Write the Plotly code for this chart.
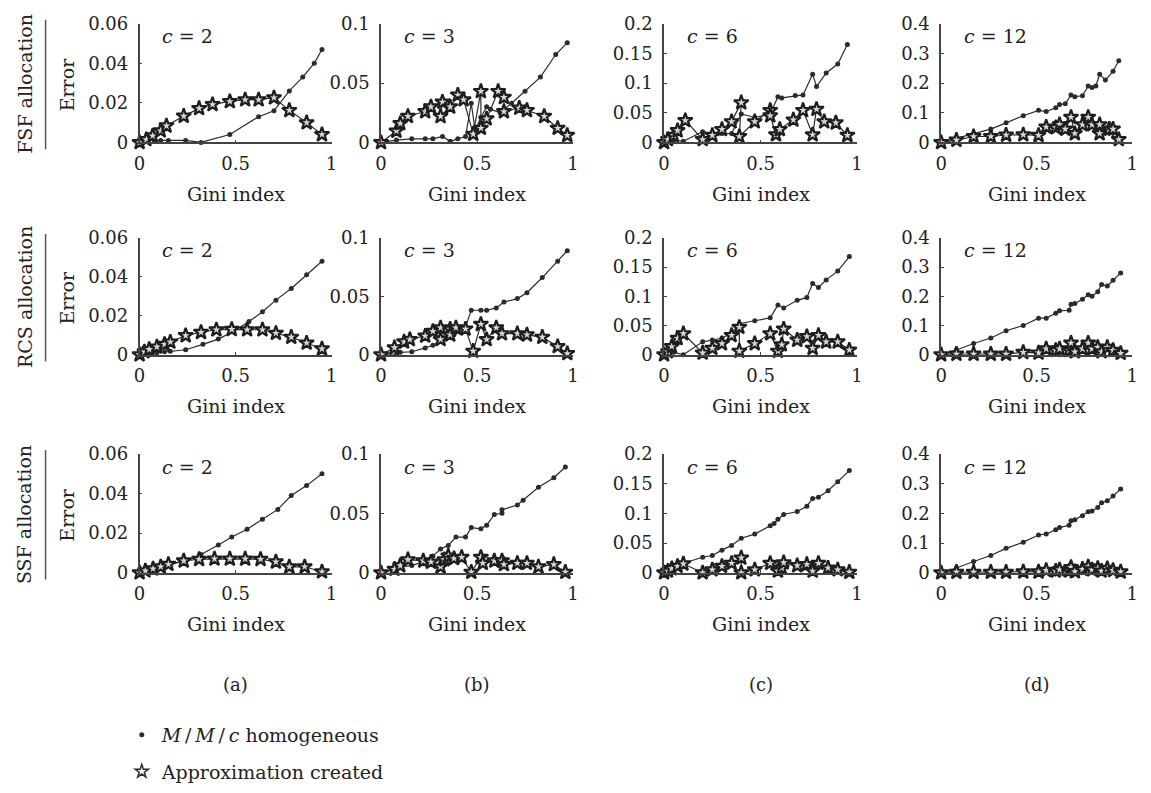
import plotly.graph_objects as go

W, H = 1151, 793

# ---------------- data (Gini index vs error) ----------------
# FSF allocation
fsf_c2_hom_x = [0, 0.04, 0.077, 0.11, 0.15, 0.24, 0.32, 0.47, 0.62, 0.70, 0.78, 0.85, 0.91, 0.95]
fsf_c2_hom_y = [0, 0.001, 0.001, 0.001, 0.001, 0.001, 0.0, 0.004, 0.013, 0.016, 0.026, 0.033, 0.040, 0.047]
fsf_c2_app_x = [0, 0.035, 0.068, 0.11, 0.14, 0.23, 0.31, 0.38, 0.47, 0.55, 0.62, 0.70, 0.78, 0.87, 0.95]
fsf_c2_app_y = [0, 0.0015, 0.0034, 0.0059, 0.0084, 0.0133, 0.0172, 0.0192, 0.0207, 0.0216, 0.0216, 0.0226, 0.0162, 0.010, 0.004]

fsf_c3_hom_x = [0, 0.08, 0.16, 0.23, 0.27, 0.32, 0.36, 0.40, 0.44, 0.47, 0.49, 0.52, 0.55, 0.57, 0.62, 0.68, 0.75, 0.83, 0.91, 0.97]
fsf_c3_hom_y = [0, 0.002, 0.003, 0.003, 0.003, 0.005, 0.001, 0.003, 0.005, 0.033, 0.010, 0.021, 0.030, 0.028, 0.025, 0.033, 0.043, 0.055, 0.074, 0.084]
fsf_c3_app_x = [0, 0.08, 0.10, 0.14, 0.23, 0.26, 0.32, 0.31, 0.36, 0.40, 0.43, 0.48, 0.52, 0.52, 0.55, 0.61, 0.64, 0.64, 0.72, 0.76, 0.85, 0.92, 0.97]
fsf_c3_app_y = [0, 0.0096, 0.016, 0.022, 0.026, 0.030, 0.034, 0.022, 0.030, 0.040, 0.036, 0.007, 0.043, 0.012, 0.020, 0.043, 0.038, 0.026, 0.029, 0.027, 0.022, 0.012, 0.006]

fsf_c6_hom_x = [0, 0.02, 0.05, 0.10, 0.20, 0.25, 0.30, 0.35, 0.40, 0.47, 0.55, 0.59, 0.61, 0.68, 0.72, 0.77, 0.79, 0.84, 0.90, 0.95]
fsf_c6_hom_y = [0, 0.008, 0.004, 0.002, 0.018, 0.015, 0.015, 0.015, 0.048, 0.042, 0.048, 0.077, 0.075, 0.079, 0.080, 0.115, 0.094, 0.117, 0.132, 0.165]
fsf_c6_app_x = [0, 0.02, 0.05, 0.07, 0.11, 0.20, 0.25, 0.30, 0.35, 0.40, 0.39, 0.47, 0.55, 0.55, 0.58, 0.60, 0.67, 0.72, 0.77, 0.79, 0.83, 0.89, 0.95]
fsf_c6_app_y = [0, 0.005, 0.012, 0.020, 0.037, 0.005, 0.012, 0.022, 0.035, 0.067, 0.010, 0.035, 0.054, 0.045, 0.013, 0.022, 0.038, 0.054, 0.013, 0.056, 0.035, 0.033, 0.012]

fsf_c12_hom_x = [0, 0.08, 0.17, 0.26, 0.34, 0.43, 0.51, 0.55, 0.60, 0.62, 0.65, 0.68, 0.70, 0.74, 0.77, 0.79, 0.81, 0.83, 0.86, 0.90, 0.93]
fsf_c12_hom_y = [0, 0.014, 0.030, 0.045, 0.066, 0.090, 0.108, 0.104, 0.117, 0.128, 0.130, 0.160, 0.154, 0.157, 0.190, 0.185, 0.190, 0.230, 0.210, 0.240, 0.275]
fsf_c12_app_x = [0, 0.08, 0.17, 0.26, 0.34, 0.43, 0.51, 0.55, 0.60, 0.62, 0.65, 0.68, 0.70, 0.74, 0.77, 0.79, 0.83, 0.83, 0.88, 0.90, 0.93]
fsf_c12_app_y = [0, 0.008, 0.020, 0.020, 0.025, 0.026, 0.024, 0.052, 0.050, 0.060, 0.045, 0.085, 0.030, 0.060, 0.085, 0.060, 0.030, 0.060, 0.045, 0.045, 0.010]

# RCS allocation
rcs_c2_hom_x = [0, 0.05, 0.09, 0.13, 0.16, 0.24, 0.33, 0.41, 0.49, 0.57, 0.64, 0.71, 0.79, 0.87, 0.95]
rcs_c2_hom_y = [0, 0.0005, 0.001, 0.0015, 0.0018, 0.0025, 0.0053, 0.008, 0.012, 0.017, 0.022, 0.028, 0.034, 0.041, 0.048]
rcs_c2_app_x = [0, 0.025, 0.05, 0.09, 0.13, 0.16, 0.24, 0.32, 0.40, 0.48, 0.56, 0.64, 0.71, 0.79, 0.87, 0.95]
rcs_c2_app_y = [0, 0.0015, 0.0027, 0.004, 0.0053, 0.0065, 0.0098, 0.0115, 0.0128, 0.013, 0.0128, 0.0128, 0.011, 0.009, 0.006, 0.003]

rcs_c3_hom_x = [0, 0.08, 0.10, 0.16, 0.23, 0.27, 0.31, 0.35, 0.38, 0.44, 0.47, 0.52, 0.55, 0.60, 0.64, 0.71, 0.76, 0.84, 0.92, 0.97]
rcs_c3_hom_y = [0, 0.0005, 0.002, 0.0025, 0.0058, 0.008, 0.012, 0.015, 0.017, 0.024, 0.038, 0.038, 0.038, 0.040, 0.045, 0.048, 0.053, 0.066, 0.080, 0.089]
rcs_c3_app_x = [0, 0.07, 0.12, 0.15, 0.23, 0.27, 0.31, 0.31, 0.36, 0.36, 0.39, 0.44, 0.48, 0.52, 0.55, 0.60, 0.63, 0.71, 0.76, 0.84, 0.92, 0.97]
rcs_c3_app_y = [0, 0.006, 0.011, 0.013, 0.016, 0.020, 0.023, 0.013, 0.022, 0.017, 0.023, 0.022, 0.003, 0.026, 0.013, 0.023, 0.018, 0.018, 0.017, 0.015, 0.007, 0.001]

rcs_c6_hom_x = [0, 0.03, 0.05, 0.10, 0.20, 0.25, 0.30, 0.35, 0.39, 0.47, 0.55, 0.59, 0.62, 0.69, 0.74, 0.77, 0.80, 0.84, 0.90, 0.96]
rcs_c6_hom_y = [0, 0.005, 0.004, 0.0, 0.022, 0.025, 0.028, 0.037, 0.053, 0.058, 0.063, 0.085, 0.080, 0.093, 0.098, 0.122, 0.115, 0.128, 0.143, 0.168]
rcs_c6_app_x = [0, 0.02, 0.04, 0.07, 0.10, 0.20, 0.25, 0.30, 0.35, 0.39, 0.39, 0.47, 0.55, 0.59, 0.61, 0.62, 0.69, 0.74, 0.77, 0.80, 0.84, 0.90, 0.96]
rcs_c6_app_y = [0, 0.005, 0.014, 0.028, 0.036, 0.003, 0.011, 0.019, 0.033, 0.047, 0.006, 0.019, 0.036, 0.006, 0.017, 0.044, 0.025, 0.031, 0.011, 0.033, 0.022, 0.022, 0.008]

rcs_c12_hom_x = [0, 0.08, 0.17, 0.26, 0.34, 0.43, 0.51, 0.55, 0.60, 0.62, 0.67, 0.68, 0.70, 0.74, 0.77, 0.79, 0.82, 0.84, 0.87, 0.90, 0.94]
rcs_c12_hom_y = [0, 0.016, 0.038, 0.057, 0.082, 0.100, 0.125, 0.125, 0.142, 0.150, 0.152, 0.173, 0.175, 0.190, 0.205, 0.200, 0.215, 0.240, 0.235, 0.255, 0.280]
rcs_c12_app_x = [0, 0.08, 0.17, 0.26, 0.34, 0.43, 0.51, 0.55, 0.60, 0.62, 0.67, 0.68, 0.70, 0.74, 0.77, 0.79, 0.82, 0.84, 0.87, 0.90, 0.94]
rcs_c12_app_y = [0, 0.002, 0.002, 0.002, 0.002, 0.008, 0.006, 0.020, 0.015, 0.020, 0.015, 0.040, 0.010, 0.020, 0.040, 0.020, 0.025, 0.010, 0.025, 0.015, 0.005]

# SSF allocation
ssf_c2_hom_x = [0, 0.03, 0.07, 0.11, 0.16, 0.24, 0.32, 0.41, 0.48, 0.56, 0.64, 0.72, 0.79, 0.87, 0.95]
ssf_c2_hom_y = [0, 0.001, 0.002, 0.003, 0.0043, 0.0058, 0.0092, 0.014, 0.018, 0.022, 0.027, 0.032, 0.039, 0.044, 0.050]
ssf_c2_app_x = [0, 0.03, 0.07, 0.11, 0.15, 0.23, 0.31, 0.39, 0.47, 0.55, 0.63, 0.71, 0.78, 0.86, 0.95]
ssf_c2_app_y = [0, 0.001, 0.002, 0.003, 0.0043, 0.006, 0.0068, 0.007, 0.007, 0.007, 0.0068, 0.0055, 0.003, 0.003, 0.0005]

ssf_c3_hom_x = [0, 0.07, 0.10, 0.16, 0.23, 0.27, 0.31, 0.35, 0.39, 0.44, 0.47, 0.52, 0.55, 0.59, 0.63, 0.63, 0.71, 0.74, 0.82, 0.90, 0.96]
ssf_c3_hom_y = [0, 0.003, 0.005, 0.006, 0.010, 0.014, 0.020, 0.023, 0.030, 0.030, 0.038, 0.037, 0.040, 0.049, 0.050, 0.053, 0.057, 0.061, 0.072, 0.080, 0.089]
ssf_c3_app_x = [0, 0.07, 0.10, 0.14, 0.22, 0.26, 0.31, 0.33, 0.35, 0.38, 0.42, 0.47, 0.52, 0.53, 0.59, 0.63, 0.64, 0.71, 0.76, 0.82, 0.90, 0.96]
ssf_c3_app_y = [0, 0.003, 0.006, 0.011, 0.010, 0.009, 0.005, 0.011, 0.014, 0.012, 0.013, 0.0005, 0.013, 0.008, 0.010, 0.010, 0.007, 0.008, 0.008, 0.005, 0.007, 0.0005]

ssf_c6_hom_x = [0, 0.03, 0.05, 0.08, 0.10, 0.20, 0.25, 0.30, 0.35, 0.40, 0.47, 0.55, 0.57, 0.59, 0.62, 0.69, 0.74, 0.77, 0.80, 0.85, 0.90, 0.96]
ssf_c6_hom_y = [0, 0.003, 0.005, 0.010, 0.016, 0.026, 0.029, 0.038, 0.046, 0.058, 0.065, 0.079, 0.083, 0.090, 0.098, 0.103, 0.112, 0.125, 0.127, 0.138, 0.153, 0.172]
ssf_c6_app_x = [0, 0.02, 0.04, 0.07, 0.10, 0.20, 0.25, 0.30, 0.35, 0.40, 0.40, 0.47, 0.55, 0.59, 0.61, 0.62, 0.69, 0.74, 0.77, 0.80, 0.85, 0.90, 0.96]
ssf_c6_app_y = [0, 0.003, 0.007, 0.011, 0.015, 0.0, 0.005, 0.011, 0.016, 0.025, 0.0, 0.005, 0.016, 0.003, 0.008, 0.017, 0.012, 0.014, 0.003, 0.016, 0.008, 0.005, 0.001]

ssf_c12_hom_x = [0, 0.08, 0.17, 0.26, 0.34, 0.43, 0.51, 0.55, 0.60, 0.62, 0.67, 0.68, 0.70, 0.74, 0.77, 0.79, 0.82, 0.84, 0.87, 0.90, 0.94]
ssf_c12_hom_y = [0, 0.016, 0.038, 0.058, 0.082, 0.103, 0.127, 0.130, 0.145, 0.152, 0.160, 0.175, 0.178, 0.192, 0.205, 0.208, 0.220, 0.236, 0.242, 0.258, 0.282]
ssf_c12_app_x = [0, 0.08, 0.17, 0.26, 0.34, 0.43, 0.51, 0.55, 0.60, 0.62, 0.67, 0.68, 0.70, 0.74, 0.77, 0.79, 0.82, 0.84, 0.87, 0.90, 0.94]
ssf_c12_app_y = [0, 0.002, 0.002, 0.002, 0.002, 0.003, 0.003, 0.008, 0.006, 0.010, 0.006, 0.018, 0.004, 0.012, 0.020, 0.010, 0.015, 0.006, 0.014, 0.008, 0.003]

row_labels = ["FSF allocation", "RCS allocation", "SSF allocation"]
c_labels = ["2", "3", "6", "12"]
panel_letters = ["(a)", "(b)", "(c)", "(d)"]
y_tick_vals = [[0, 0.02, 0.04, 0.06], [0, 0.05, 0.1], [0, 0.05, 0.1, 0.15, 0.2], [0, 0.1, 0.2, 0.3, 0.4]]
y_tick_text = [["0", "0.02", "0.04", "0.06"], ["0", "0.05", "0.1"], ["0", "0.05", "0.1", "0.15", "0.2"], ["0", "0.1", "0.2", "0.3", "0.4"]]
x_tick_vals = [0, 0.5, 1]
x_tick_text = ["0", "0.5", "1"]
hom_name = "<i>M</i>\u2009/\u2009<i>M</i>\u2009/\u2009<i>c</i> homogeneous"
app_name = "Approximation created"

panels = [
    [(fsf_c2_hom_x, fsf_c2_hom_y, fsf_c2_app_x, fsf_c2_app_y),
     (fsf_c3_hom_x, fsf_c3_hom_y, fsf_c3_app_x, fsf_c3_app_y),
     (fsf_c6_hom_x, fsf_c6_hom_y, fsf_c6_app_x, fsf_c6_app_y),
     (fsf_c12_hom_x, fsf_c12_hom_y, fsf_c12_app_x, fsf_c12_app_y)],
    [(rcs_c2_hom_x, rcs_c2_hom_y, rcs_c2_app_x, rcs_c2_app_y),
     (rcs_c3_hom_x, rcs_c3_hom_y, rcs_c3_app_x, rcs_c3_app_y),
     (rcs_c6_hom_x, rcs_c6_hom_y, rcs_c6_app_x, rcs_c6_app_y),
     (rcs_c12_hom_x, rcs_c12_hom_y, rcs_c12_app_x, rcs_c12_app_y)],
    [(ssf_c2_hom_x, ssf_c2_hom_y, ssf_c2_app_x, ssf_c2_app_y),
     (ssf_c3_hom_x, ssf_c3_hom_y, ssf_c3_app_x, ssf_c3_app_y),
     (ssf_c6_hom_x, ssf_c6_hom_y, ssf_c6_app_x, ssf_c6_app_y),
     (ssf_c12_hom_x, ssf_c12_hom_y, ssf_c12_app_x, ssf_c12_app_y)],
]

# ---------------- layout geometry (pixels) ----------------
col_px = [(135, 329), (379, 573), (665, 860), (945, 1138)]
row_px = [(13, 135), (233, 353), (455, 577)]

FONT = "DejaVu Serif"
INK = "#2b2b2b"
AX = "#444444"


def px(x):
    return x / W


def py(y):
    return 1 - y / H


fig = go.Figure()
layout = dict(
    width=W, height=H, autosize=False,
    margin=dict(l=0, r=0, t=0, b=0),
    paper_bgcolor="white", plot_bgcolor="white",
    font=dict(family=FONT, size=18, color="#222"),
    showlegend=True,
)
annotations = []
shapes = []

k = 0
for r in range(3):
    for c in range(4):
        k += 1
        xa = "x" if k == 1 else f"x{k}"
        ya = "y" if k == 1 else f"y{k}"
        hx, hy, ax_, ay_ = panels[r][c]
        fig.add_trace(go.Scatter(
            x=hx, y=hy, xaxis=xa, yaxis=ya, mode="lines+markers",
            line=dict(color=INK, width=1.2), marker=dict(size=5, color=INK),
            cliponaxis=False, showlegend=False, hoverinfo="skip"))
        fig.add_trace(go.Scatter(
            x=ax_, y=ay_, xaxis=xa, yaxis=ya, mode="lines+markers",
            line=dict(color=INK, width=1.2),
            marker=dict(size=11, symbol="star", color="#d8d8d8", line=dict(width=2.2, color="#1e1e1e")),
            cliponaxis=False, showlegend=False, hoverinfo="skip"))
        x0, x1 = col_px[c]
        y0, y1 = row_px[r]
        xkey = "xaxis" if k == 1 else f"xaxis{k}"
        ykey = "yaxis" if k == 1 else f"yaxis{k}"
        layout[xkey] = dict(
            domain=[px(x0), px(x1)], anchor=ya, range=[0, 1],
            showline=True, linecolor=AX, linewidth=1.5, showgrid=False, zeroline=False,
            ticks="inside", ticklen=3, tickcolor=AX, tickwidth=1.2,
            tickvals=x_tick_vals, ticktext=x_tick_text, ticklabelstandoff=4,
            tickfont=dict(family=FONT, size=18, color="#222"))
        layout[ykey] = dict(
            domain=[py(y1), py(y0)], anchor=xa, range=[0, y_tick_vals[c][-1]],
            showline=True, linecolor=AX, linewidth=1.5, showgrid=False, zeroline=False,
            ticks="inside", ticklen=3, tickcolor=AX, tickwidth=1.2,
            tickvals=y_tick_vals[c], ticktext=y_tick_text[c], ticklabelstandoff=6,
            tickfont=dict(family=FONT, size=18, color="#222"))
        # c = n label
        annotations.append(dict(
            x=px(x0 + 21), y=py(y0 + 13), xref="paper", yref="paper",
            xanchor="left", yanchor="middle", showarrow=False,
            text=f"<i>c</i> = {c_labels[c]}", font=dict(family=FONT, size=19, color="#222")))
        # x title
        annotations.append(dict(
            x=px((x0 + x1) / 2), y=py(y1 + 53), xref="paper", yref="paper",
            xanchor="center", yanchor="middle", showarrow=False,
            text="Gini index", font=dict(family=FONT, size=19, color="#222")))
    # row label + Error
    y0, y1 = row_px[r]
    annotations.append(dict(
        x=px(62), y=py((y0 + y1) / 2 + 2), xref="paper", yref="paper",
        xanchor="center", yanchor="middle", showarrow=False, textangle=-90,
        text="Error", font=dict(family=FONT, size=19, color="#222")))
    annotations.append(dict(
        x=px(19), y=py((y0 + y1) / 2 + 1), xref="paper", yref="paper",
        xanchor="center", yanchor="middle", showarrow=False, textangle=-90,
        text=row_labels[r], font=dict(family=FONT, size=19, color="#222")))
    shapes.append(dict(type="line", xref="paper", yref="paper",
                       x0=px(40), x1=px(40), y0=py(y0 - 4), y1=py(y1 + 7),
                       line=dict(color="#555", width=1.5)))

for c in range(4):
    x0, x1 = col_px[c]
    annotations.append(dict(
        x=px((x0 + x1) / 2), y=py(692), xref="paper", yref="paper",
        xanchor="center", yanchor="middle", showarrow=False,
        text=panel_letters[c], font=dict(family=FONT, size=18, color="#222")))

# legend entries
fig.add_trace(go.Scatter(x=[None], y=[None], mode="markers", name=hom_name,
                         marker=dict(size=5, color=INK), legendgroup="h"))
fig.add_trace(go.Scatter(x=[None], y=[None], mode="markers", name=app_name,
                         marker=dict(size=10, symbol="star-open", color=INK, line=dict(width=1.5, color=INK)),
                         legendgroup="a"))

layout["legend"] = dict(
    x=px(117), y=py(724), xanchor="left", yanchor="top",
    font=dict(family=FONT, size=19, color="#222"),
    bgcolor="rgba(0,0,0,0)", tracegroupgap=9, itemclick=False, itemdoubleclick=False)
layout["annotations"] = annotations
layout["shapes"] = shapes
fig.update_layout(**layout)

fig.write_html("out.html")
